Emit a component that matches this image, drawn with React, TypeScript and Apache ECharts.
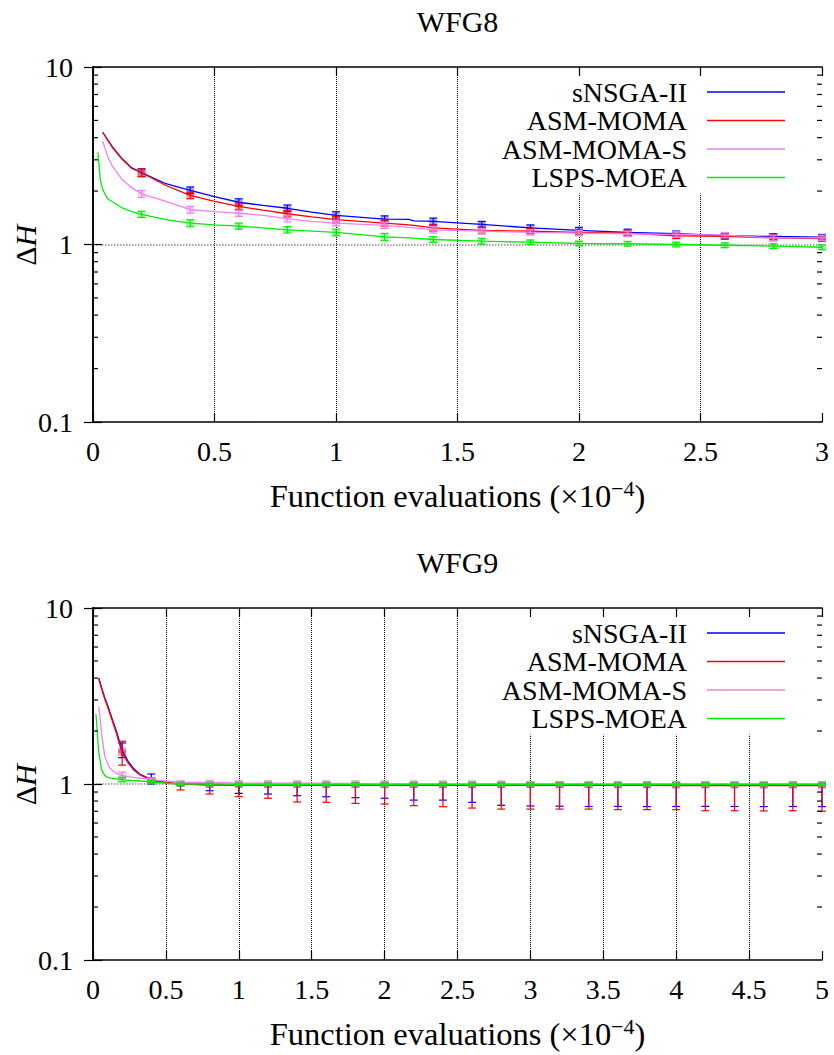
import React, { useEffect, useRef } from 'react';
import * as echarts from 'echarts';

const FONT = 'Liberation Serif, DejaVu Serif, serif';
const SERIES_NAMES = ['sNSGA-II', 'ASM-MOMA', 'ASM-MOMA-S', 'LSPS-MOEA'];
const COLORS = ['#0000ff', '#ff0000', '#ee82ee', '#00ee00'];
const TITLES = ['WFG8', 'WFG9'];
const X_MAX = [3, 5];
const MINOR_TICKS = [0.2, 0.3, 0.4, 0.5, 0.6, 0.7, 0.8, 0.9, 2, 3, 4, 5, 6, 7, 8, 9];

// ---------- WFG8 (top) ----------
const TOP_X = [0.02, 0.03, 0.04, 0.06, 0.08, 0.12, 0.16, 0.2, 0.3, 0.4, 0.5, 0.6, 0.7, 0.8, 0.9, 1.0, 1.2, 1.3, 1.32, 1.4, 1.6, 1.8, 2.0, 2.2, 2.4, 2.6, 2.8, 3.0];
const TOP_SNSGA = [null, null, 4.29, 3.9, 3.55, 3.04, 2.7, 2.54, 2.2, 2.02, 1.86, 1.73, 1.66, 1.6, 1.52, 1.46, 1.39, 1.385, 1.36, 1.35, 1.3, 1.24, 1.2, 1.17, 1.15, 1.12, 1.11, 1.1];
const TOP_ASM = [null, null, 4.29, 3.88, 3.52, 3.02, 2.68, 2.54, 2.15, 1.89, 1.75, 1.64, 1.56, 1.49, 1.43, 1.38, 1.32, 1.29, 1.28, 1.24, 1.2, 1.19, 1.17, 1.16, 1.12, 1.11, 1.09, 1.08];
const TOP_ASMS = [null, null, 3.82, 3.14, 2.76, 2.32, 2.09, 1.93, 1.75, 1.57, 1.53, 1.5, 1.46, 1.4, 1.35, 1.32, 1.28, 1.25, 1.24, 1.21, 1.19, 1.17, 1.16, 1.15, 1.14, 1.13, 1.09, 1.09];
const TOP_LSPS = [3.31, 2.32, 2.04, 1.81, 1.74, 1.61, 1.53, 1.48, 1.38, 1.32, 1.29, 1.27, 1.24, 1.21, 1.19, 1.17, 1.105, 1.09, 1.085, 1.067, 1.044, 1.03, 1.013, 1.01, 1.0, 0.99, 0.98, 0.965];

const TOP_ERR_X = [0.2, 0.4, 0.6, 0.8, 1.0, 1.2, 1.4, 1.6, 1.8, 2.0, 2.2, 2.4, 2.6, 2.8, 3.0];
const TOP_ERR_SNSGA = [0.13, 0.09, 0.08, 0.07, 0.07, 0.06, 0.06, 0.05, 0.05, 0.05, 0.05, 0.04, 0.04, 0.04, 0.04];
const TOP_ERR_ASM = [0.12, 0.08, 0.07, 0.06, 0.06, 0.05, 0.05, 0.05, 0.04, 0.04, 0.04, 0.04, 0.04, 0.04, 0.04];
const TOP_ERR_ASMS = [0.09, 0.07, 0.06, 0.06, 0.05, 0.05, 0.05, 0.04, 0.04, 0.04, 0.04, 0.04, 0.04, 0.04, 0.04];
const TOP_ERR_LSPS = [0.06, 0.06, 0.05, 0.05, 0.05, 0.05, 0.04, 0.04, 0.03, 0.03, 0.03, 0.03, 0.03, 0.03, 0.03];

// ---------- WFG9 (bottom) ----------
const BOT_X = [0.02, 0.04, 0.06, 0.08, 0.1, 0.12, 0.16, 0.2, 0.24, 0.28, 0.32, 0.36, 0.4, 0.5, 0.6, 0.8, 1.0, 1.5, 2.0, 2.5, 3.0, 3.5, 4.0, 4.5, 5.0];
const BOT_SNSGA = [null, 4.0, 3.5, 3.1, 2.8, 2.5, 2.0, 1.55, 1.35, 1.22, 1.14, 1.1, 1.05, 1.02, 1.0, 0.99, 0.99, 0.99, 0.985, 0.985, 0.985, 0.985, 0.985, 0.985, 0.985];
const BOT_ASM = [null, 3.95, 3.45, 3.05, 2.75, 2.45, 1.95, 1.5, 1.32, 1.2, 1.13, 1.09, 1.05, 1.02, 1.0, 0.99, 0.99, 0.985, 0.985, 0.985, 0.985, 0.985, 0.98, 0.98, 0.98];
const BOT_ASMS = [null, 2.75, 1.9, 1.45, 1.3, 1.22, 1.15, 1.12, 1.1, 1.09, 1.08, 1.07, 1.06, 1.04, 1.02, 1.02, 1.01, 1.01, 1.0, 1.0, 1.0, 1.0, 1.0, 1.0, 1.0];
const BOT_LSPS = [2.5, 1.5, 1.2, 1.12, 1.09, 1.08, 1.07, 1.06, 1.05, 1.045, 1.04, 1.035, 1.03, 1.01, 1.0, 1.0, 0.995, 0.995, 0.995, 0.995, 0.995, 0.995, 0.995, 0.995, 0.995];

const BOT_ERR_X = [0.2, 0.4, 0.6, 0.8, 1.0, 1.2, 1.4, 1.6, 1.8, 2.0, 2.2, 2.4, 2.6, 2.8, 3.0, 3.2, 3.4, 3.6, 3.8, 4.0, 4.2, 4.4, 4.6, 4.8, 5.0];
const BOT_LO_SNSGA = [1.41, 1.0, 0.99, 0.916, 0.885, 0.877, 0.858, 0.847, 0.836, 0.83, 0.81, 0.81, 0.787, 0.757, 0.75, 0.748, 0.745, 0.746, 0.744, 0.745, 0.746, 0.745, 0.744, 0.745, 0.744];
const BOT_HI_SNSGA = [1.71, 1.14, 1.02, 1.01, 1.01, 1.01, 1.01, 1.01, 1.01, 1.01, 1.01, 1.01, 1.01, 1.01, 1.01, 1.01, 1.01, 1.01, 1.01, 1.01, 1.01, 1.01, 1.01, 1.01, 1.01];
const BOT_LO_ASM = [1.28, 1.02, 0.925, 0.877, 0.847, 0.83, 0.79, 0.787, 0.776, 0.77, 0.753, 0.743, 0.73, 0.72, 0.72, 0.72, 0.72, 0.715, 0.715, 0.715, 0.705, 0.705, 0.703, 0.705, 0.7];
const BOT_HI_ASM = [1.75, 1.08, 1.02, 1.01, 1.01, 1.01, 1.01, 1.01, 1.01, 1.01, 1.01, 1.01, 1.01, 1.01, 1.01, 1.01, 1.01, 1.01, 1.01, 1.01, 1.01, 1.01, 1.01, 1.01, 1.01];
const BOT_LO_ASMS = [1.08, 1.03, 0.99, 0.99, 0.99, 0.99, 0.99, 0.99, 0.99, 0.99, 0.99, 0.99, 0.99, 0.99, 0.99, 0.99, 0.99, 0.99, 0.99, 0.99, 0.99, 0.99, 0.99, 0.99, 0.99];
const BOT_HI_ASMS = [1.17, 1.08, 1.04, 1.04, 1.04, 1.04, 1.04, 1.04, 1.04, 1.04, 1.04, 1.04, 1.04, 1.04, 1.03, 1.03, 1.03, 1.03, 1.03, 1.03, 1.03, 1.03, 1.03, 1.03, 1.03];
const BOT_LO_LSPS = [1.03, 1.01, 0.99, 0.99, 0.99, 0.99, 0.99, 0.99, 0.99, 0.99, 0.99, 0.99, 0.99, 0.99, 0.99, 0.99, 0.99, 0.99, 0.99, 0.99, 0.99, 0.99, 0.99, 0.99, 0.99];
const BOT_HI_LSPS = [1.09, 1.05, 1.01, 1.01, 1.01, 1.01, 1.01, 1.01, 1.01, 1.01, 1.01, 1.01, 1.01, 1.01, 1.01, 1.01, 1.01, 1.01, 1.01, 1.01, 1.01, 1.01, 1.01, 1.01, 1.01];

const GRIDS = [
  { left: 93, top: 67, width: 729, height: 355 },
  { left: 93, top: 608, width: 729, height: 352 },
];

function meanAt(xs: number[], vals: (number | null)[], x: number): number {
  for (let k = 0; k < xs.length; k++) {
    if (Math.abs(xs[k] - x) < 1e-9 && vals[k] != null) return vals[k] as number;
  }
  for (let k = 0; k < xs.length - 1; k++) {
    if (xs[k] <= x && xs[k + 1] >= x && vals[k] != null && vals[k + 1] != null) {
      const t = (x - xs[k]) / (xs[k + 1] - xs[k]);
      return (vals[k] as number) * (1 - t) + (vals[k + 1] as number) * t;
    }
  }
  return 1;
}

function pairs(xs: number[], vals: (number | null)[]) {
  const out: number[][] = [];
  xs.forEach((x, k) => {
    if (vals[k] != null) out.push([x, vals[k] as number]);
  });
  return out;
}

const errRender = (color: string) => (params: any, api: any) => {
  const x = api.value(0);
  const lo = api.value(1);
  const hi = api.value(2);
  const m = api.value(3);
  const p1 = api.coord([x, lo]);
  const p2 = api.coord([x, hi]);
  const pm = api.coord([x, m]);
  const w = 4;
  const st = { stroke: color, lineWidth: 1.2 };
  return {
    type: 'group',
    children: [
      { type: 'rect', shape: { x: pm[0] - 4, y: pm[1] - 3, width: 8, height: 6 }, style: { fill: color, opacity: 0.35 } },
      { type: 'line', shape: { x1: p1[0], y1: p1[1], x2: p2[0], y2: p2[1] }, style: st },
      { type: 'line', shape: { x1: p1[0] - w, y1: p1[1], x2: p1[0] + w, y2: p1[1] }, style: st },
      { type: 'line', shape: { x1: p2[0] - w, y1: p2[1], x2: p2[0] + w, y2: p2[1] }, style: st },
    ],
  };
};

const minorRender = (params: any, api: any) => {
  const y = api.coord([0, api.value(1)])[1];
  const cs = params.coordSys;
  const st = { stroke: '#000', lineWidth: 1.2 };
  return {
    type: 'group',
    children: [
      { type: 'line', shape: { x1: cs.x, y1: y, x2: cs.x + 5, y2: y }, style: st },
      { type: 'line', shape: { x1: cs.x + cs.width - 5, y1: y, x2: cs.x + cs.width, y2: y }, style: st },
    ],
  };
};

function buildOption() {
  const lines = [
    { xs: TOP_X, vals: [TOP_SNSGA, TOP_ASM, TOP_ASMS, TOP_LSPS] },
    { xs: BOT_X, vals: [BOT_SNSGA, BOT_ASM, BOT_ASMS, BOT_LSPS] },
  ];
  const topErr = [TOP_ERR_SNSGA, TOP_ERR_ASM, TOP_ERR_ASMS, TOP_ERR_LSPS];
  const botLo = [BOT_LO_SNSGA, BOT_LO_ASM, BOT_LO_ASMS, BOT_LO_LSPS];
  const botHi = [BOT_HI_SNSGA, BOT_HI_ASM, BOT_HI_ASMS, BOT_HI_LSPS];

  const xAxis: any[] = [];
  const yAxis: any[] = [];
  const series: any[] = [];
  const legend: any[] = [];
  const graphic: any[] = [];

  for (let c = 0; c < 2; c++) {
    const g = GRIDS[c];
    xAxis.push({
      gridIndex: c, type: 'value', min: 0, max: X_MAX[c], interval: 0.5, position: 'bottom',
      axisLine: { show: true, lineStyle: { color: '#000', width: 1.6 } },
      axisTick: { show: true, inside: true, length: 9, lineStyle: { color: '#000', width: 1.2 } },
      axisLabel: { show: true, interval: 0, fontFamily: FONT, fontSize: 28, color: '#000', margin: 15 },
      splitLine: { show: true, showMinLine: false, showMaxLine: false, lineStyle: { type: 'dotted', color: '#000', width: 1 } },
      name: '{a|Function evaluations (×10}{s|−4}{a|)}',
      nameLocation: 'middle', nameGap: 55,
      nameTextStyle: {
        rich: {
          a: { fontFamily: FONT, fontSize: 32.5, color: '#000' },
          s: { fontFamily: FONT, fontSize: 22, color: '#000', padding: [0, 0, 16, 0] },
        },
      },
    });
    xAxis.push({
      gridIndex: c, type: 'value', min: 0, max: X_MAX[c], interval: 0.5, position: 'top', z: 10,
      axisLine: { show: true, lineStyle: { color: '#000', width: 1.6 } },
      axisTick: { show: true, inside: true, length: 9, lineStyle: { color: '#000', width: 1.2 } },
      axisLabel: { show: false },
      splitLine: { show: false },
    });
    yAxis.push({
      gridIndex: c, type: 'log', logBase: 10, min: 0.1, max: 10, position: 'left',
      axisLine: { show: true, lineStyle: { color: '#000', width: 1.6 } },
      axisTick: { show: true, inside: true, length: 9, lineStyle: { color: '#000', width: 1.2 } },
      axisLabel: { show: true, fontFamily: FONT, fontSize: 28, color: '#000', margin: 20 },
      splitLine: { show: true, showMinLine: false, showMaxLine: false, lineStyle: { type: 'dotted', color: '#888', width: 1.5 } },
    });
    yAxis.push({
      gridIndex: c, type: 'log', logBase: 10, min: 0.1, max: 10, position: 'right', z: 10,
      axisLine: { show: true, lineStyle: { color: '#000', width: 1.6 } },
      axisTick: { show: true, inside: true, length: 9, lineStyle: { color: '#000', width: 1.2 } },
      axisLabel: { show: false },
      splitLine: { show: false },
    });

    for (let i = 0; i < 4; i++) {
      const xs = lines[c].xs;
      const vals = lines[c].vals[i];
      series.push({
        type: 'line', name: SERIES_NAMES[i], xAxisIndex: 2 * c, yAxisIndex: 2 * c,
        data: pairs(xs, vals), showSymbol: false, symbol: 'none', z: 2 + i,
        lineStyle: { color: COLORS[i], width: 1.3 },
        itemStyle: { color: COLORS[i], borderWidth: 0 },
      });
      const ex = c === 0 ? TOP_ERR_X : BOT_ERR_X;
      const edata = ex.map((x, k) => {
        const m = meanAt(xs, vals, x);
        if (c === 0) return [x, m - topErr[i][k], m + topErr[i][k], m];
        return [x, botLo[i][k], botHi[i][k], m];
      });
      series.push({
        type: 'custom', name: SERIES_NAMES[i] + ' err', xAxisIndex: 2 * c, yAxisIndex: 2 * c,
        data: edata, encode: { x: 0, y: [1, 2] }, renderItem: errRender(COLORS[i]), z: 2 + i, silent: true,
      });
    }
    series.push({
      type: 'custom', name: 'minor ticks', xAxisIndex: 2 * c, yAxisIndex: 2 * c,
      data: MINOR_TICKS.map((v) => [0, v]), encode: { x: 0, y: 1 }, renderItem: minorRender, z: 10, silent: true,
    });

    legend.push({
      top: g.top + 2, right: 39, orient: 'vertical', align: 'right', icon: 'rect',
      itemWidth: 78, itemHeight: 1.5, itemGap: 0.5, padding: [9, 10, 2, 10],
      backgroundColor: '#fff', selectedMode: false, z: 4,
      textStyle: { fontFamily: FONT, fontSize: 28, color: '#000', lineHeight: 28, padding: [0, 15, 0, 0] },
      data: SERIES_NAMES,
    });

    graphic.push({
      type: 'text', x: g.left + g.width / 2, y: g.top - 46,
      style: { text: TITLES[c], fill: '#000', fontFamily: FONT, fontSize: 30, align: 'center', verticalAlign: 'middle' },
    });
    // y-axis title: upright Δ followed by italic H, rotated to read upward
    const cy = g.top + g.height / 2 + 2;
    graphic.push({
      type: 'text', x: 25, y: cy, rotation: Math.PI / 2,
      style: { text: 'Δ', fill: '#000', fontFamily: FONT, fontSize: 30, align: 'right', verticalAlign: 'middle' },
    });
    graphic.push({
      type: 'text', x: 25, y: cy, rotation: Math.PI / 2,
      style: { text: 'H', fill: '#000', fontFamily: FONT, fontSize: 30, fontStyle: 'italic', align: 'left', verticalAlign: 'middle' },
    });
  }

  return {
    animation: false,
    backgroundColor: '#fff',
    textStyle: { fontFamily: FONT },
    grid: GRIDS.map((g) => ({ ...g, show: false, containLabel: false, outerBoundsMode: 'none' })),
    xAxis, yAxis, series, legend, graphic,
  };
}

export default function App() {
  const ref = useRef<HTMLDivElement>(null);
  useEffect(() => {
    if (!ref.current) return;
    const chart = echarts.init(ref.current, undefined, { renderer: 'svg' });
    chart.setOption(buildOption() as any);
    return () => chart.dispose();
  }, []);
  return (
    <div
      ref={ref}
      style={{ position: 'absolute', left: 0, top: 0, width: 834, height: 1055, background: '#fff' }}
    />
  );
}
